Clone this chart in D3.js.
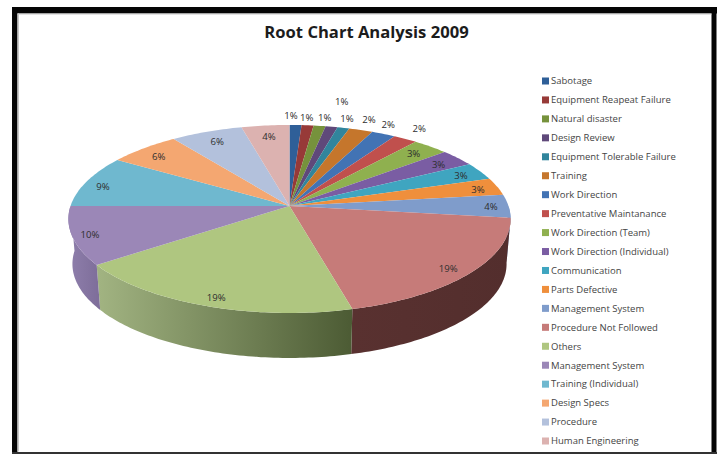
<!DOCTYPE html>
<html>
<head>
<meta charset="utf-8">
<title>Root Chart Analysis 2009</title>
<script src="https://cdn.jsdelivr.net/npm/d3@7/dist/d3.min.js"></script>
<style>
  html, body { margin: 0; padding: 0; background: #fff; }
  svg { display: block; }
  text { font-family: "Open Sans", "Liberation Sans", sans-serif; }
</style>
</head>
<body>
<svg id="chart" width="725" height="454"></svg>
<script>
const chartTitle = "Root Chart Analysis 2009";
const categories = [
  "Sabotage", "Equipment Reapeat Failure", "Natural disaster", "Design Review",
  "Equipment Tolerable Failure", "Training", "Work Direction", "Preventative Maintanance",
  "Work Direction  (Team)", "Work Direction (Individual)", "Communication", "Parts Defective",
  "Management System", "Procedure Not Followed", "Others", "Management System",
  "Training (Individual)", "Design Specs", "Procedure", "Human Engineering"
];
const percents = [1, 1, 1, 1, 1, 2, 2, 2, 3, 3, 3, 3, 4, 19, 19, 10, 9, 6, 6, 4];
const colors = [
  "#2f5f98", "#973a38", "#76923c", "#5f497a", "#31859c", "#c5762c",
  "#4273b4", "#c0504d", "#8fb04f", "#7a5da3", "#3fa5c0", "#ef8f3c",
  "#7f9ccb", "#c67b79", "#afc680", "#9b87b7", "#6fb8cf", "#f4a771",
  "#b3c1dc", "#dcb2b0"
];
// Nudges of each value label from its slice's rim point
const labelNudge = [
  [-4.5, -9], [-1, -8], [5, -8], [10, -25], [3.5, -9], [8, -10], [4.5, -9], [14, -10],
  [-17, 7], [-19, 7], [-19, 4], [-19, 3.5], [-17.5, 1], [-22, -4], [12, -8], [18, -1],
  [16, 5], [15, 8], [10.5, 10], [3.5, 11]
];
// Side-wall shading (left colour, right colour) for the slices that face the viewer
const wallShades = {
  13: ["#593130", "#532e2d"],
  14: ["#a2b482", "#4c5b34"],
  15: ["#8f7fac", "#7f6f9b"]
};

const svg = d3.select("#chart");
const defs = svg.append("defs");

// Picture frame
const frameColor = "#050505";
[[12, 7, 705, 6.5], [12, 7, 5.5, 447], [711.5, 7, 5, 447]].forEach(r =>
  svg.append("rect").attr("x", r[0]).attr("y", r[1]).attr("width", r[2]).attr("height", r[3])
    .attr("fill", frameColor));
svg.append("rect").attr("x", 12).attr("y", 452).attr("width", 705).attr("height", 2).attr("fill", "#333");
svg.append("rect").attr("x", 17.5).attr("y", 13.5).attr("width", 1.5).attr("height", 438).attr("fill", "#c8c8c8");
svg.append("rect").attr("x", 17.5).attr("y", 13.5).attr("width", 694).attr("height", 1).attr("fill", "#c8c8c8");

svg.append("text")
  .attr("x", 366.5).attr("y", 38)
  .attr("text-anchor", "middle")
  .attr("font-size", 16.6).attr("font-weight", 700).attr("fill", "#1c1c1c")
  .text(chartTitle);

// Perspective projection of the pie's disc onto the page
const cx = 289.5, cy = 206, topR = 219, bottomR = 215, tilt = 92.2, persp = 0.138, depth = 45;
function project(theta, r, radius, drop) {
  const u = r * Math.sin(theta), v = -r * Math.cos(theta);
  const s = 1 / (1 - persp * v);
  return [cx + radius * u * s, cy + tilt * v * s + drop];
}

const arcs = d3.pie().sort(null).value(d => d)(percents);
const line = d3.line();
const arcStep = Math.PI / 180;
const arcAngles = (a, b) => d3.range(a, b, arcStep).concat([b]);

// Side wall: visible only along the front half of the rim
const frontStart = Math.PI / 2, frontEnd = 3 * Math.PI / 2;
const walls = svg.append("g");
arcs.forEach((d, i) => {
  const a = Math.max(d.startAngle, frontStart), b = Math.min(d.endAngle, frontEnd);
  if (a >= b) return;
  const shade = wallShades[i] || [colors[i], colors[i]];
  const topEdge = arcAngles(a, b).map(t => project(t, 1, topR, 0));
  const bottomEdge = arcAngles(a, b).reverse().map(t => project(t, 1, bottomR, depth));
  const xs = d3.extent(topEdge, p => p[0]);
  const grad = defs.append("linearGradient")
    .attr("id", "wall" + i).attr("gradientUnits", "userSpaceOnUse")
    .attr("x1", xs[0]).attr("x2", xs[1]).attr("y1", 0).attr("y2", 0);
  grad.append("stop").attr("offset", 0).attr("stop-color", shade[0]);
  grad.append("stop").attr("offset", 1).attr("stop-color", shade[1]);
  walls.append("path")
    .attr("d", line(topEdge.concat(bottomEdge)) + "Z")
    .attr("fill", `url(#wall${i})`);
});

// Top face
svg.append("g").selectAll("path").data(arcs).join("path")
  .attr("d", d => line([[cx, cy]].concat(arcAngles(d.startAngle, d.endAngle).map(t => project(t, 1, topR, 0)))) + "Z")
  .attr("fill", (d, i) => colors[i]);

// Value labels
svg.append("g").selectAll("text").data(arcs).join("text")
  .attr("x", (d, i) => project((d.startAngle + d.endAngle) / 2, 1, topR, 0)[0] + labelNudge[i][0])
  .attr("y", (d, i) => project((d.startAngle + d.endAngle) / 2, 1, topR, 0)[1] + labelNudge[i][1])
  .attr("dy", "0.35em").attr("text-anchor", "middle")
  .attr("font-size", 9.6).attr("fill", "#2e2e2e")
  .text(d => d.value + "%");

// Legend
const legendY = d3.scalePoint().domain(d3.range(categories.length)).range([81, 441]);
const legend = svg.append("g").selectAll("g").data(categories).join("g")
  .attr("transform", (d, i) => `translate(542,${legendY(i)})`);
legend.append("rect").attr("x", 0).attr("y", -3.5).attr("width", 7).attr("height", 7)
  .attr("fill", (d, i) => colors[i]);
legend.append("text").attr("x", 9).attr("dy", "0.35em")
  .attr("font-size", 9.5).attr("fill", "#444")
  .text(d => d);
</script>
</body>
</html>
